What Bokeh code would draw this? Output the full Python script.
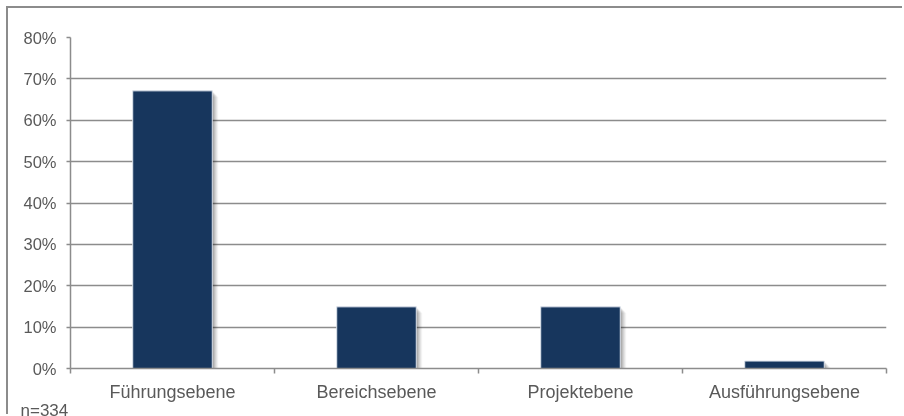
from bokeh.plotting import figure
from bokeh.models import FixedTicker, Title, NumeralTickFormatter
from bokeh.embed import file_html
from bokeh.resources import INLINE

categories = ["Führungsebene", "Bereichsebene", "Projektebene", "Ausführungsebene"]
values = [0.671, 0.149, 0.149, 0.018]
y_ticks = [0.0, 0.1, 0.2, 0.3, 0.4, 0.5, 0.6, 0.7, 0.8]
note = "n=334"

FONT = "Liberation Sans"
TXT = "#595959"
GRID = "#8c8c8c"
BAR = "#17365d"

n = len(categories)
xs = [i + 0.5 for i in range(n)]

p = figure(width=896, height=408, output_backend="svg", toolbar_location=None,
           x_range=(0, n), y_range=(0, 0.8),
           min_border_left=62, min_border_right=18, min_border_top=29, min_border_bottom=0)
p.styles = {"position": "fixed", "left": "8px", "top": "8px",
            "box-shadow": "-2px -2px 0px 0px #8c8c8c"}
p.outline_line_color = None
p.background_fill_color = "white"
p.border_fill_color = "white"

# grid
p.xgrid.grid_line_color = None
p.ygrid.grid_line_color = GRID
p.ygrid.grid_line_width = 1.5
p.ygrid.ticker = FixedTicker(ticks=y_ticks)

# y axis
p.yaxis.ticker = FixedTicker(ticks=y_ticks)
p.yaxis.formatter = NumeralTickFormatter(format="0%")
p.yaxis.axis_line_color = GRID
p.yaxis.axis_line_width = 1.5
p.yaxis.major_tick_line_color = GRID
p.yaxis.major_tick_line_width = 1.5
p.yaxis.major_tick_out = 4
p.yaxis.major_tick_in = 0
p.yaxis.minor_tick_line_color = None
p.yaxis.major_label_text_font = FONT
p.yaxis.major_label_text_font_size = "16.5px"
p.yaxis.major_label_text_color = TXT
p.yaxis.major_label_standoff = 10

# x axis: labels at category centres, tick marks at boundaries
p.xaxis.ticker = FixedTicker(ticks=xs, minor_ticks=list(range(n + 1)))
p.xaxis.major_label_overrides = {x: c for x, c in zip(xs, categories)}
p.xaxis.axis_line_color = GRID
p.xaxis.axis_line_width = 1.5
p.xaxis.major_tick_line_color = None
p.xaxis.major_tick_out = 0
p.xaxis.major_tick_in = 0
p.xaxis.minor_tick_line_color = GRID
p.xaxis.minor_tick_line_width = 1.5
p.xaxis.minor_tick_out = 5
p.xaxis.minor_tick_in = 0
p.xaxis.major_label_text_font = FONT
p.xaxis.major_label_text_font_size = "18px"
p.xaxis.major_label_text_color = TXT
p.xaxis.major_label_standoff = 8

# soft shadow (right / bottom)
px_x = n / 816.0
px_y = 0.8 / 331.0
for k, a in [(1, 0.10), (2, 0.09), (3, 0.08), (4, 0.07), (5, 0.05), (6, 0.04)]:
    p.vbar(x=[x + k * px_x for x in xs], top=[v - k * px_y for v in values], bottom=0,
           width=0.39, fill_color="black", fill_alpha=a, line_color=None)

p.vbar(x=xs, top=values, bottom=0, width=0.39, fill_color=BAR,
       line_color="#dde3ec", line_width=1)

p.add_layout(Title(text=note, align="left", offset=-50, standoff=-9,
                   vertical_align="middle",
                   text_font=FONT, text_font_size="17px", text_color=TXT,
                   text_font_style="normal"), "below")

open("out.html", "w").write(file_html(p, INLINE))
